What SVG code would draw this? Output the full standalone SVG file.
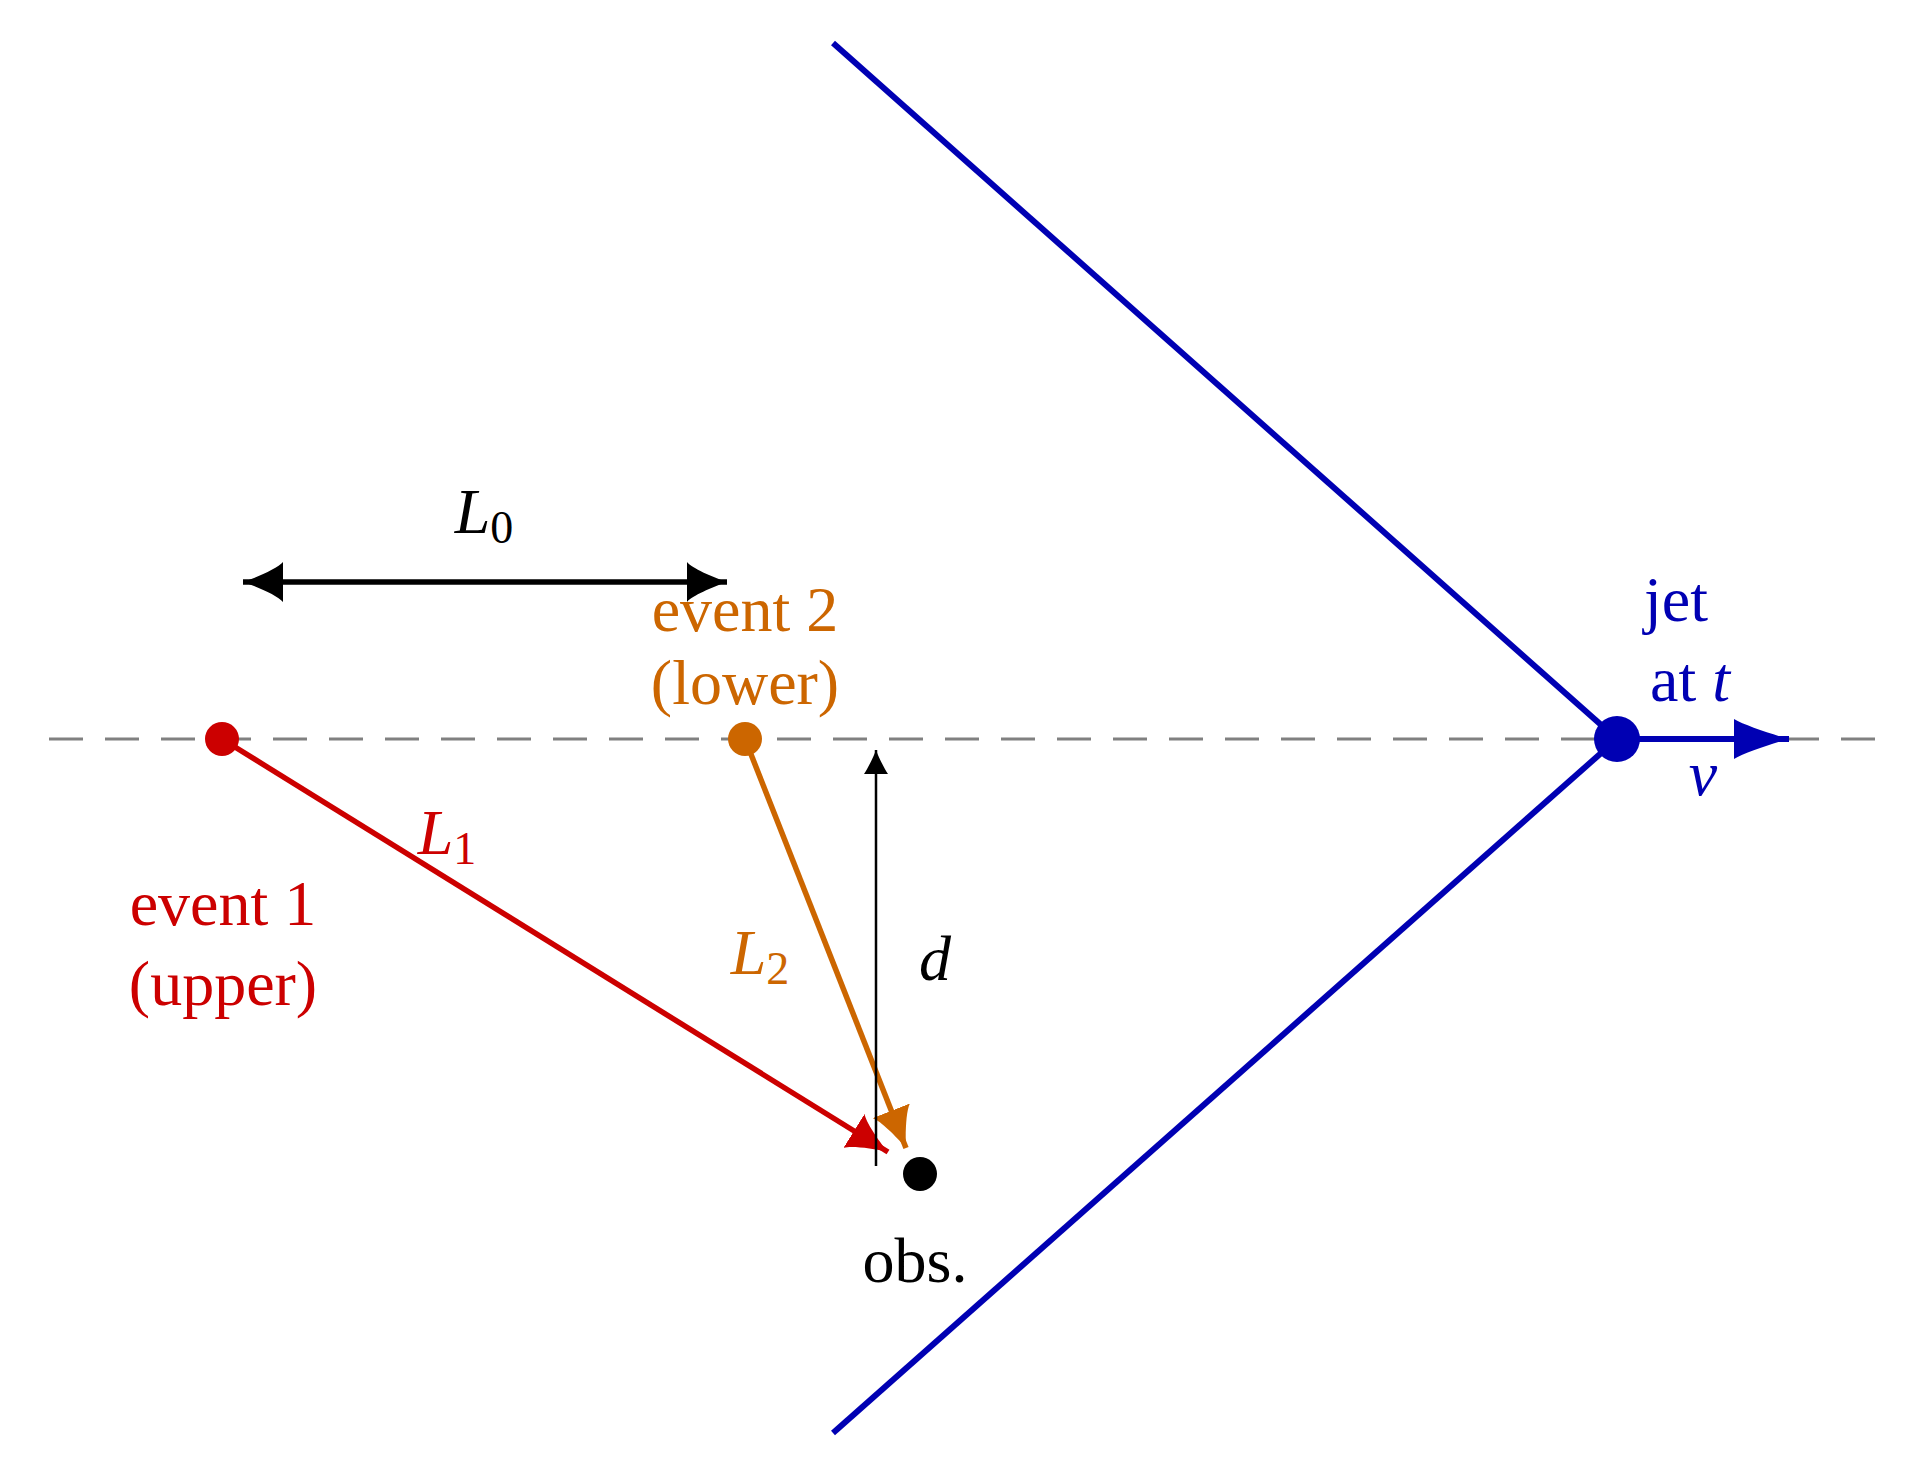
<svg xmlns="http://www.w3.org/2000/svg" width="1911" height="1459" viewBox="0 0 1911 1459">
<style>
text{font-family:"Liberation Serif","DejaVu Serif",serif;font-size:64px;text-anchor:middle}
.i{font-style:italic}
</style>
<defs>
<marker id="ak" markerUnits="userSpaceOnUse" viewBox="-40 -20 44 40" refX="0" refY="0" markerWidth="44" markerHeight="40" orient="auto-start-reverse"><path d="M0,0 C-15,-5 -35,-14 -40,-20 L-40,20 C-35,14 -15,5 0,0Z" fill="#000"/></marker>
<marker id="ar" markerUnits="userSpaceOnUse" viewBox="-40 -20 44 40" refX="0" refY="0" markerWidth="44" markerHeight="40" orient="auto"><path d="M0,0 C-15,-5 -35,-14 -40,-20 L-40,20 C-35,14 -15,5 0,0Z" fill="#cc0000"/></marker>
<marker id="ao" markerUnits="userSpaceOnUse" viewBox="-40 -20 44 40" refX="0" refY="0" markerWidth="44" markerHeight="40" orient="auto"><path d="M0,0 C-15,-5 -35,-14 -40,-20 L-40,20 C-35,14 -15,5 0,0Z" fill="#cc6600"/></marker>
<marker id="ab" markerUnits="userSpaceOnUse" viewBox="-60 -20 64 40" refX="0" refY="0" markerWidth="64" markerHeight="40" orient="auto"><path d="M0,0 C-18,-5 -45,-14 -55,-20 L-55,20 C-45,14 -18,5 0,0Z" fill="#0000b3"/></marker>
<marker id="ad" markerUnits="userSpaceOnUse" viewBox="-30 -12 34 24" refX="0" refY="0" markerWidth="34" markerHeight="24" orient="auto"><path d="M0,0 C-8,-3 -18,-8 -24,-12 L-24,12 C-18,8 -8,3 0,0Z" fill="#000"/></marker>
</defs>
<g id="connectors" fill="none">
<line x1="49" y1="739" x2="1880" y2="739" stroke="#808080" stroke-width="3" stroke-dasharray="34,22"/>
<line x1="833" y1="43" x2="1617" y2="739" stroke="#0000b3" stroke-width="6"/>
<line x1="833" y1="1433" x2="1617" y2="739" stroke="#0000b3" stroke-width="6"/>
<line x1="1617" y1="739" x2="1789" y2="739" stroke="#0000b3" stroke-width="6" marker-end="url(#ab)"/>
<line x1="243" y1="582" x2="727" y2="582" stroke="#000" stroke-width="5.5" marker-start="url(#ak)" marker-end="url(#ak)"/>
<line x1="222" y1="739" x2="888" y2="1152" stroke="#cc0000" stroke-width="5.5" marker-end="url(#ar)"/>
<line x1="745" y1="739" x2="906" y2="1148" stroke="#cc6600" stroke-width="5.5" marker-end="url(#ao)"/>
<line x1="876" y1="1166" x2="876" y2="750" stroke="#000" stroke-width="2.5" marker-end="url(#ad)"/>
</g>
<g id="event1"><circle cx="222" cy="739" r="17" fill="#cc0000"/><text x="223" y="925" fill="#cc0000">event 1</text><text x="223" y="1005" fill="#cc0000">(upper)</text></g>
<g id="event2"><circle cx="745" cy="739" r="17" fill="#cc6600"/><text x="745" y="631" fill="#cc6600">event 2</text><text x="745" y="704" fill="#cc6600">(lower)</text></g>
<g id="obs"><circle cx="920" cy="1174" r="17" fill="#000"/><text x="915" y="1282">obs.</text></g>
<g id="jet"><circle cx="1617" cy="739" r="23" fill="#0000b3"/><text x="1676" y="621" fill="#0000b3">jet</text><text x="1690" y="701" fill="#0000b3">at <tspan class="i">t</tspan></text><text x="1703" y="795" class="i" fill="#0000b3">v</text></g>
<g id="labels">
<text x="484" y="533" class="i">L<tspan class="" font-style="normal" font-size="46" dy="10">0</tspan></text>
<text x="447" y="854" class="i" fill="#cc0000">L<tspan font-style="normal" font-size="46" dy="10">1</tspan></text>
<text x="760" y="974" class="i" fill="#cc6600">L<tspan font-style="normal" font-size="46" dy="10">2</tspan></text>
<text x="935" y="980" class="i">d</text>
</g>
</svg>
